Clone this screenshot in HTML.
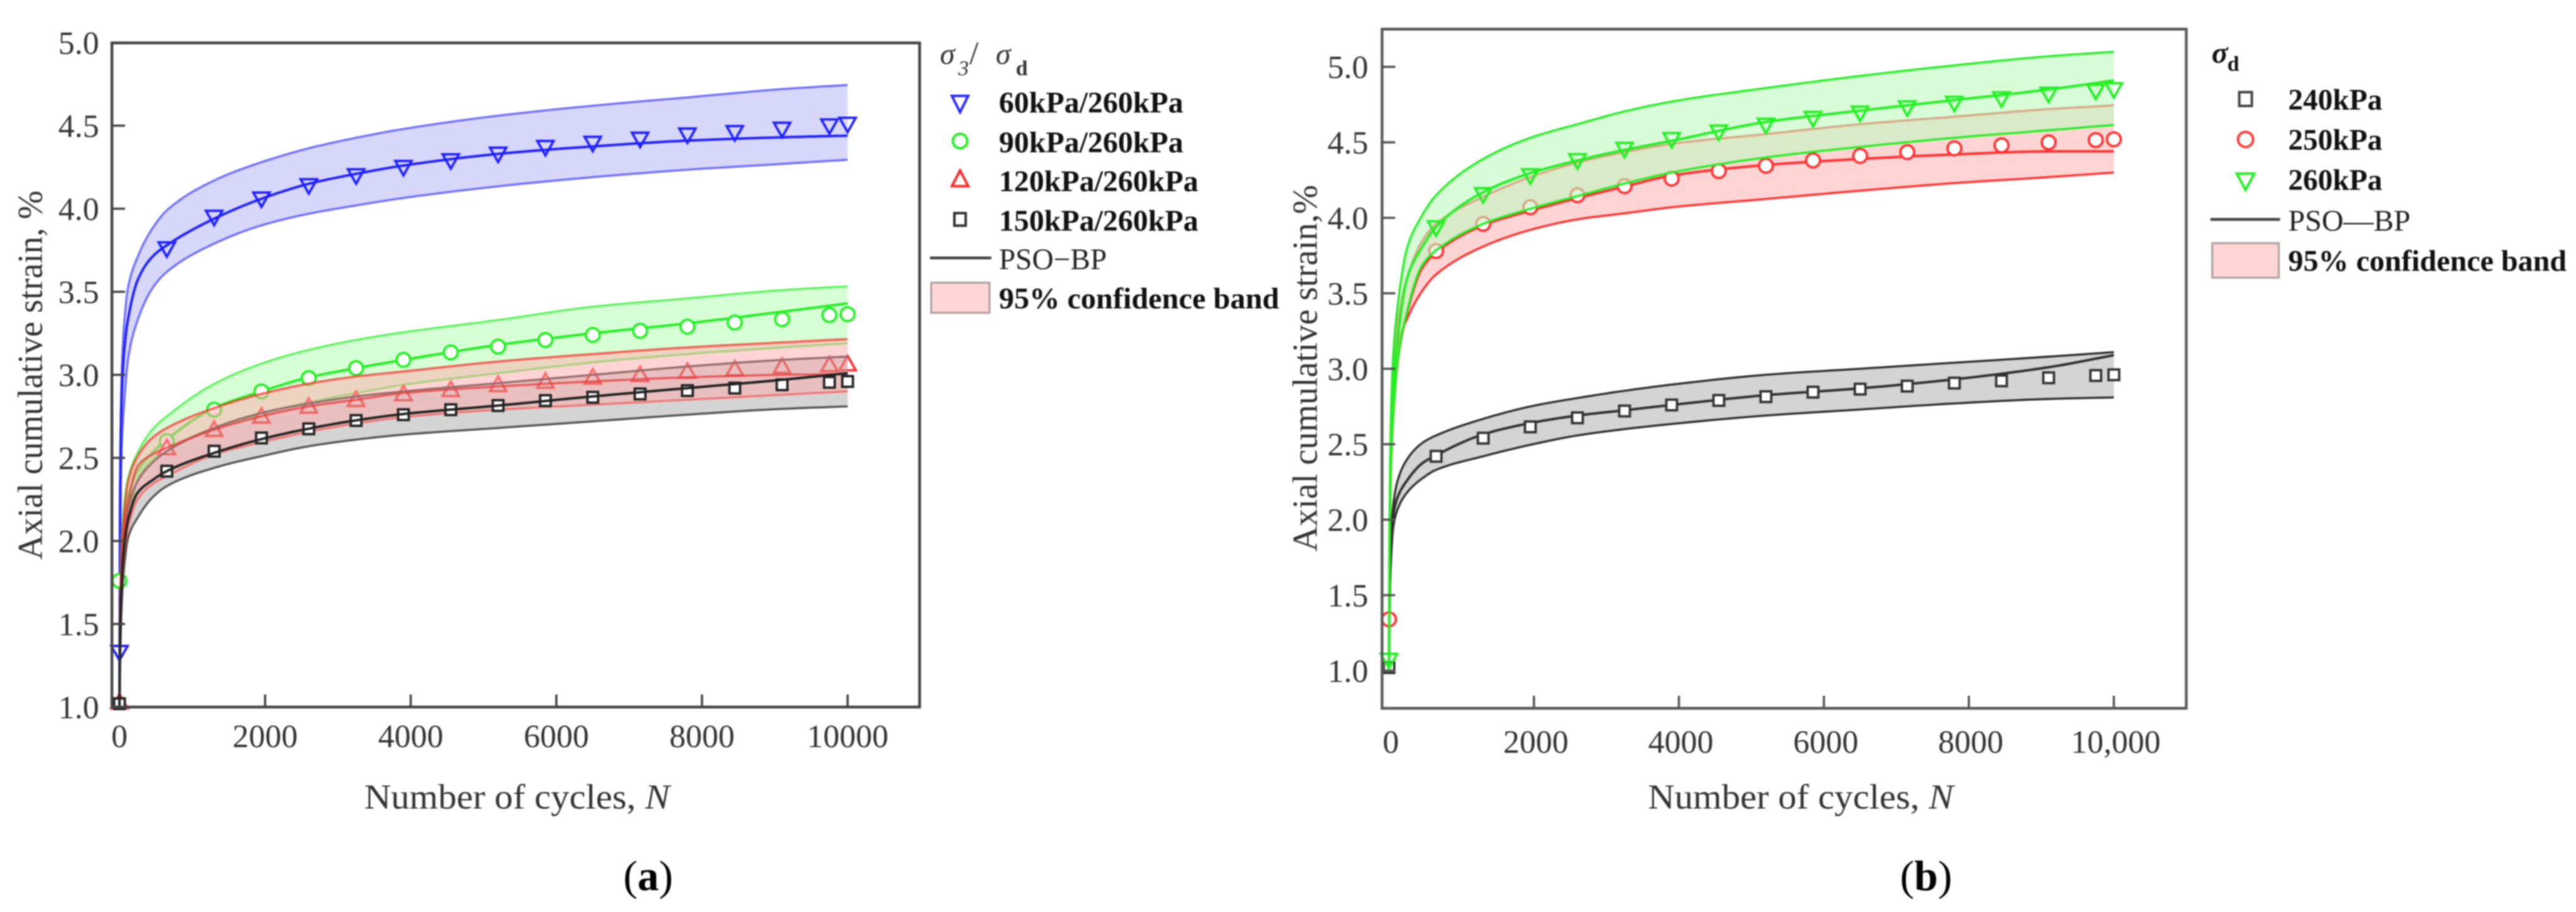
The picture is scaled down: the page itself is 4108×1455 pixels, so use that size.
<!DOCTYPE html>
<html lang="en">
<head>
<meta charset="utf-8">
<title>Axial cumulative strain vs number of cycles</title>
<style>
  html, body { margin: 0; padding: 0; background: #fff; }
  #figure { display: block; width: 4108px; height: 1455px; filter: blur(1.1px); }
  text { font-family: "Liberation Serif", serif; fill: #333; }
  .tick { font-size: 52px; }
  .title { font-size: 56px; }
  .leg { font-size: 48px; font-weight: bold; fill: #111; }
  .legr { font-size: 48px; fill: #222; }
  .axis { fill: none; stroke: #444; stroke-width: 4.5; }
</style>
</head>
<body>
<svg id="figure" xmlns="http://www.w3.org/2000/svg" width="4108" height="1455" viewBox="0 0 4108 1455">
  <rect x="0" y="0" width="4108" height="1455" fill="#fff"/>

  <g id="chart-a">
    <g id="a-marks"></g>
    <rect class="axis" x="178.5" y="68.5" width="1288" height="1059.5"/>
    <g id="a-axes"></g>
    <text class="title" transform="translate(67,893) rotate(-90)" textLength="589" lengthAdjust="spacingAndGlyphs">Axial cumulative strain, %</text>
    <text class="title" x="581" y="1290" textLength="487" lengthAdjust="spacingAndGlyphs">Number of cycles, <tspan font-style="italic">N</tspan></text>
    <text x="994" y="1420" font-size="68" style="fill:#000">(<tspan font-weight="bold">a</tspan>)</text>
  </g>

  <g id="legend-a">
    <g>
      <text x="1499" y="102" font-size="48" font-style="italic">σ</text>
      <text x="1528" y="120" font-size="34" font-style="italic">3</text>
      <text x="1546" y="102" font-size="52">/</text>
      <text x="1588" y="102" font-size="48" font-style="italic">σ</text>
      <text x="1620" y="120" font-size="34" font-weight="bold">d</text>
    </g>
    <polygon points="1518,153 1544,153 1531,179" fill="#fff" stroke="#2a2aff" stroke-width="4"/>
    <text class="leg" x="1593" y="179.5" textLength="294" lengthAdjust="spacingAndGlyphs">60kPa/260kPa</text>
    <circle cx="1531" cy="225" r="11.5" fill="#fff" stroke="#22ee22" stroke-width="4"/>
    <text class="leg" x="1593" y="243" textLength="294" lengthAdjust="spacingAndGlyphs">90kPa/260kPa</text>
    <polygon points="1518,297 1544,297 1531,272" fill="#fff" stroke="#ff2a2a" stroke-width="4"/>
    <text class="leg" x="1593" y="305" textLength="318" lengthAdjust="spacingAndGlyphs">120kPa/260kPa</text>
    <rect x="1522" y="340" width="18" height="20" fill="#fff" stroke="#333" stroke-width="4"/>
    <text class="leg" x="1593" y="368" textLength="318" lengthAdjust="spacingAndGlyphs">150kPa/260kPa</text>
    <line x1="1483" y1="411.5" x2="1581" y2="411.5" stroke="#444" stroke-width="4.5"/>
    <text class="legr" x="1593" y="429.5" textLength="172" lengthAdjust="spacingAndGlyphs">PSO−BP</text>
    <rect x="1485" y="451" width="93" height="48" fill="#ffd6d6" stroke="#b5a5a5" stroke-width="3.5"/>
    <text class="leg" x="1593" y="492" textLength="447" lengthAdjust="spacingAndGlyphs">95% confidence band</text>
  </g>

  <g id="chart-b">
    <g id="b-marks"></g>
    <rect class="axis" x="2204" y="46.5" width="1282.5" height="1083.5" style="stroke:#5a5a5a"/>
    <g id="b-axes"></g>
    <text class="title" transform="translate(2100,880) rotate(-90)" textLength="585" lengthAdjust="spacingAndGlyphs">Axial cumulative strain,%</text>
    <text class="title" x="2628" y="1290" textLength="487" lengthAdjust="spacingAndGlyphs">Number of cycles, <tspan font-style="italic">N</tspan></text>
    <text x="3030" y="1420" font-size="68" style="fill:#000">(<tspan font-weight="bold">b</tspan>)</text>
  </g>

  <g id="legend-b">
    <g>
      <text x="3527" y="100" font-size="48" font-style="italic" font-weight="bold" style="fill:#111">σ</text>
      <text x="3552" y="113" font-size="34" font-weight="bold" style="fill:#111">d</text>
    </g>
    <rect x="3571" y="147" width="20" height="22" fill="#fff" stroke="#444" stroke-width="4"/>
    <text class="leg" x="3649" y="175" textLength="150" lengthAdjust="spacingAndGlyphs">240kPa</text>
    <circle cx="3581" cy="222.5" r="12" fill="#fff" stroke="#ff3a3a" stroke-width="4"/>
    <text class="leg" x="3649" y="239" textLength="150" lengthAdjust="spacingAndGlyphs">250kPa</text>
    <polygon points="3567,277 3595,277 3581,303" fill="#fff" stroke="#22ee22" stroke-width="4"/>
    <text class="leg" x="3649" y="303" textLength="150" lengthAdjust="spacingAndGlyphs">260kPa</text>
    <line x1="3525" y1="350" x2="3636" y2="350" stroke="#444" stroke-width="4.5"/>
    <text class="legr" x="3649" y="368" textLength="195" lengthAdjust="spacingAndGlyphs">PSO—BP</text>
    <rect x="3528" y="388" width="106" height="55" fill="#ffd6d6" stroke="#b5a5a5" stroke-width="3.5"/>
    <text class="leg" x="3649" y="432" textLength="444" lengthAdjust="spacingAndGlyphs">95% confidence band</text>
  </g>
</svg>

<script>
// ---- shared x values ----
const markerCycles = [0, 650, 1300, 1950, 2600, 3250, 3900, 4550, 5200, 5850, 6500, 7150, 7800, 8450, 9100, 9750, 10000];
const curveCycles = [0, 10, 30, 60, 120, 250, 450, 650, 1300, 1950, 2600, 3250, 3900, 5200, 6500, 7800, 9100, 10000];

// ---- chart (a) tick labels ----
const aXTicks = [0, 2000, 4000, 6000, 8000, 10000];
const aXTickLabels = ['0', '2000', '4000', '6000', '8000', '10000'];
const aYTicks = [1.0, 1.5, 2.0, 2.5, 3.0, 3.5, 4.0, 4.5, 5.0];
const aYTickLabels = ['1.0', '1.5', '2.0', '2.5', '3.0', '3.5', '4.0', '4.5', '5.0'];

// ---- chart (a) measured points ----
const a60Points = [1.33, 3.76, 3.95, 4.06, 4.14, 4.20, 4.25, 4.29, 4.33, 4.37, 4.395, 4.42, 4.445, 4.46, 4.48, 4.50, 4.51];
const a90Points = [1.76, 2.60, 2.79, 2.90, 2.98, 3.04, 3.09, 3.135, 3.17, 3.21, 3.24, 3.265, 3.29, 3.315, 3.335, 3.36, 3.365];
const a120Points = [1.03, 2.56, 2.67, 2.75, 2.81, 2.85, 2.885, 2.91, 2.94, 2.96, 2.985, 3.00, 3.02, 3.035, 3.05, 3.06, 3.065];
const a150Points = [1.02, 2.42, 2.54, 2.62, 2.675, 2.725, 2.76, 2.79, 2.815, 2.845, 2.865, 2.885, 2.905, 2.92, 2.94, 2.955, 2.96];

// ---- chart (a) fitted curves and bands ----
const a60Upper = [1, 2.4, 3.0, 3.28, 3.53, 3.71, 3.88, 3.99, 4.17, 4.28, 4.364, 4.427, 4.48, 4.56, 4.62, 4.67, 4.72, 4.745];
const a60Mean = [1, 2.3, 2.85, 3.12, 3.34, 3.57, 3.71, 3.78, 3.94, 4.06, 4.15, 4.21, 4.26, 4.33, 4.375, 4.41, 4.43, 4.44];
const a60Lower = [1, 2.0, 2.55, 2.8, 3.1, 3.33, 3.52, 3.62, 3.79, 3.90, 3.97, 4.02, 4.065, 4.135, 4.19, 4.235, 4.27, 4.295];
const a90Upper = [1, 1.6, 2.0, 2.2, 2.38, 2.53, 2.67, 2.75, 2.945, 3.067, 3.15, 3.21, 3.256, 3.33, 3.41, 3.46, 3.51, 3.533];
const a90Mean = [1, 1.55, 1.9, 2.1, 2.27, 2.42, 2.53, 2.61, 2.80, 2.90, 2.985, 3.04, 3.09, 3.18, 3.25, 3.31, 3.38, 3.43];
const a90Lower = [1, 1.45, 1.75, 1.95, 2.12, 2.37, 2.49, 2.55, 2.68, 2.765, 2.835, 2.89, 2.94, 3.01, 3.075, 3.125, 3.165, 3.19];
const a120Upper = [1, 1.6, 1.95, 2.15, 2.36, 2.51, 2.62, 2.68, 2.80, 2.885, 2.947, 2.99, 3.02, 3.08, 3.125, 3.165, 3.195, 3.215];
const a120Mean = [1, 1.5, 1.85, 2.05, 2.24, 2.45, 2.52, 2.56, 2.67, 2.75, 2.81, 2.85, 2.89, 2.93, 2.96, 2.985, 3.0, 3.005];
const a120Lower = [1, 1.4, 1.7, 1.9, 2.08, 2.25, 2.34, 2.39, 2.52, 2.594, 2.657, 2.707, 2.745, 2.79, 2.82, 2.85, 2.88, 2.90];
const a150Upper = [1, 1.5, 1.8, 2.0, 2.2, 2.36, 2.47, 2.54, 2.68, 2.77, 2.827, 2.87, 2.90, 2.95, 3.0, 3.05, 3.09, 3.11];
const a150Mean = [1, 1.45, 1.75, 1.95, 2.13, 2.29, 2.365, 2.42, 2.53, 2.613, 2.676, 2.726, 2.764, 2.815, 2.87, 2.92, 2.97, 3.01];
const a150Lower = [1, 1.3, 1.6, 1.82, 2.02, 2.14, 2.26, 2.33, 2.44, 2.51, 2.57, 2.61, 2.64, 2.68, 2.72, 2.76, 2.795, 2.81];

// ---- chart (b) tick labels ----
const bXTicks = [0, 2000, 4000, 6000, 8000, 10000];
const bXTickLabels = ['0', '2000', '4000', '6000', '8000', '10,000'];
const bYTicks = [1.0, 1.5, 2.0, 2.5, 3.0, 3.5, 4.0, 4.5, 5.0];
const bYTickLabels = ['1.0', '1.5', '2.0', '2.5', '3.0', '3.5', '4.0', '4.5', '5.0'];

// ---- chart (b) measured points ----
const b240Points = [1.02, 2.42, 2.54, 2.615, 2.675, 2.72, 2.76, 2.79, 2.815, 2.845, 2.865, 2.885, 2.905, 2.92, 2.94, 2.955, 2.96];
const b250Points = [1.34, 3.78, 3.96, 4.07, 4.15, 4.21, 4.26, 4.31, 4.345, 4.38, 4.41, 4.435, 4.46, 4.48, 4.50, 4.515, 4.52];
const b260Points = [1.07, 3.935, 4.155, 4.28, 4.38, 4.455, 4.52, 4.57, 4.615, 4.66, 4.695, 4.73, 4.76, 4.79, 4.82, 4.84, 4.85];

// ---- chart (b) fitted curves and bands ----
const b240Upper = [1, 1.6, 1.9, 2.1, 2.26, 2.4, 2.505, 2.558, 2.668, 2.75, 2.806, 2.854, 2.895, 2.96, 3.00, 3.04, 3.08, 3.11];
const b240Mean = [1, 1.5, 1.85, 2.03, 2.15, 2.26, 2.37, 2.427, 2.565, 2.64, 2.69, 2.725, 2.76, 2.825, 2.87, 2.93, 3.01, 3.09];
const b240Lower = [1, 1.45, 1.75, 1.95, 2.07, 2.18, 2.27, 2.33, 2.42, 2.496, 2.558, 2.60, 2.634, 2.69, 2.73, 2.77, 2.80, 2.81];
const b250Upper = [1, 2.0, 2.55, 2.9, 3.3, 3.6, 3.84, 3.96, 4.14, 4.27, 4.366, 4.435, 4.49, 4.555, 4.62, 4.67, 4.72, 4.745];
const b250Mean = [1, 1.9, 2.4, 2.7, 3.05, 3.37, 3.66, 3.77, 3.95, 4.047, 4.13, 4.207, 4.28, 4.35, 4.39, 4.42, 4.44, 4.44];
const b250Lower = [1, 1.8, 2.4, 2.8, 3.15, 3.33, 3.51, 3.625, 3.81, 3.92, 3.99, 4.03, 4.07, 4.125, 4.18, 4.23, 4.27, 4.30];
const b260Upper = [1, 2.1, 2.75, 3.1, 3.42, 3.80, 4.01, 4.15, 4.39, 4.53, 4.62, 4.705, 4.77, 4.86, 4.94, 5.01, 5.07, 5.10];
const b260Mean = [1, 2.0, 2.55, 2.9, 3.2, 3.6, 3.8, 3.94, 4.17, 4.296, 4.38, 4.45, 4.51, 4.635, 4.71, 4.78, 4.85, 4.91];
const b260Lower = [1, 1.9, 2.4, 2.7, 3.05, 3.38, 3.68, 3.784, 3.96, 4.06, 4.144, 4.227, 4.30, 4.40, 4.47, 4.53, 4.58, 4.615];

// ---- axis functions ----
function aX(n) { return 190.5 + n * 0.11612; }
function aY(v) { return 1128 - (v - 1) * 265; }
function bX(n) { return 2215 + n * 0.1156; }
function bY(v) { return 106.7 + (5 - v) * 240.8; }

const SVG_NS = 'http://www.w3.org/2000/svg';
function make(tag, attrs, parent) {
  const node = document.createElementNS(SVG_NS, tag);
  for (const key in attrs) node.setAttribute(key, attrs[key]);
  parent.appendChild(node);
  return node;
}

// Smooth monotone curve through the sampled values
function smooth(xs, ys, xf, yf) {
  const px = xs.map(xf), py = ys.map(yf), n = px.length;
  const d = [];
  for (let i = 0; i < n - 1; i++) d.push((py[i + 1] - py[i]) / (px[i + 1] - px[i]));
  const m = [d[0]];
  for (let i = 1; i < n - 1; i++) {
    if (d[i - 1] * d[i] <= 0) { m.push(0); continue; }
    const h0 = px[i] - px[i - 1], h1 = px[i + 1] - px[i];
    m.push(3 * (h0 + h1) / ((2 * h1 + h0) / d[i - 1] + (h1 + 2 * h0) / d[i]));
  }
  m.push(d[n - 2]);
  const out = [];
  for (let i = 0; i < n - 1; i++) {
    const h = px[i + 1] - px[i];
    for (let s = 0; s < 10; s++) {
      const t = s / 10, t2 = t * t, t3 = t2 * t;
      const y = (2 * t3 - 3 * t2 + 1) * py[i] + (t3 - 2 * t2 + t) * h * m[i] +
                (-2 * t3 + 3 * t2) * py[i + 1] + (t3 - t2) * h * m[i + 1];
      out.push([px[i] + t * h, y]);
    }
  }
  out.push([px[n - 1], py[n - 1]]);
  return out;
}
function ptsToString(pts) {
  return pts.map(function (p) { return p[0].toFixed(1) + ',' + p[1].toFixed(1); }).join(' ');
}

function drawBand(parent, upper, lower, fill, xf, yf, name) {
  const up = smooth(curveCycles, upper, xf, yf);
  const lo = smooth(curveCycles, lower, xf, yf);
  const band = make('polygon', { points: ptsToString(up.concat(lo.slice().reverse())), fill: fill, stroke: 'none' }, parent);
  
  
}
function drawCurve(parent, values, color, width, xf, yf, name) {
  const line = make('polyline', { points: ptsToString(smooth(curveCycles, values, xf, yf)), fill: 'none', stroke: color, 'stroke-width': width, 'stroke-linejoin': 'round' }, parent);
  
  
}
function drawMarkers(parent, values, shape, color, fill, xf, yf, name) {
  values.forEach(function (v, i) {
    const x = xf(markerCycles[i]), y = yf(v);
    let node;
    if (shape === 'square') {
      node = make('rect', { x: x - 8.5, y: y - 8.5, width: 17, height: 17 }, parent);
    } else if (shape === 'circle') {
      node = make('circle', { cx: x, cy: y, r: 11 }, parent);
    } else if (shape === 'down') {
      node = make('polygon', { points: (x - 13) + ',' + (y - 10) + ' ' + (x + 13) + ',' + (y - 10) + ' ' + x + ',' + (y + 13) }, parent);
    } else {
      node = make('polygon', { points: (x - 13) + ',' + (y + 10) + ' ' + (x + 13) + ',' + (y + 10) + ' ' + x + ',' + (y - 13) }, parent);
    }
    node.setAttribute('fill', fill);
    node.setAttribute('stroke', color);
    node.setAttribute('stroke-width', '3.8');
    
    
  });
}
function drawSeries(parent, upper, mean, lower, fill, color, limitColor, xf, yf, name) {
  drawBand(parent, upper, lower, fill, xf, yf, name);
  drawCurve(parent, upper, limitColor, 3.4, xf, yf, name + '-upper-limit');
  drawCurve(parent, lower, limitColor, 3.4, xf, yf, name + '-lower-limit');
  drawCurve(parent, mean, color, 4, xf, yf, name + '-fit-line');
}
function drawAxes(parent, xTicks, xLabels, yTicks, yLabels, xf, yf, axisX, axisY, yLabelX, xLabelY, stroke, name) {
  xTicks.forEach(function (t, i) {
    const x = xf(t);
    if (t !== 0) {
      const tick = make('line', { x1: x, y1: axisY, x2: x, y2: axisY - 20, stroke: stroke, 'stroke-width': 3.6 }, parent);
      
      
    }
    const label = make('text', { x: x + (name === 'chart-b' ? 3 : 0), y: xLabelY, 'text-anchor': 'middle', class: 'tick' }, parent);
    label.textContent = xLabels[i];
    
    
  });
  yTicks.forEach(function (t, i) {
    const y = yf(t);
    const tick = make('line', { x1: axisX, y1: y, x2: axisX + 21, y2: y, stroke: stroke, 'stroke-width': 3.6 }, parent);
    
    
    const label = make('text', { x: yLabelX, y: y + 18, 'text-anchor': 'end', class: 'tick' }, parent);
    label.textContent = yLabels[i];
    
    
  });
}

// ---- chart (a) ----
const aMarks = document.getElementById('a-marks');
const BLUE = '#2020ff', GREEN = '#22f022', RED = '#ff3030', DARK = '#303030';
drawSeries(aMarks, a60Upper, a60Mean, a60Lower, 'rgba(40,40,230,0.19)', BLUE, '#6f6fff', aX, aY, 'series-60kpa');
drawMarkers(aMarks, a60Points, 'down', BLUE, 'none', aX, aY, 'series-60kpa');
drawSeries(aMarks, a90Upper, a90Mean, a90Lower, 'rgba(0,255,0,0.16)', GREEN, '#5cf55c', aX, aY, 'series-90kpa');
drawMarkers(aMarks, a90Points, 'circle', GREEN, '#fff', aX, aY, 'series-90kpa');
drawMarkers(aMarks, a120Points, 'up', RED, '#fff', aX, aY, 'series-120kpa');
drawBand(aMarks, a150Upper, a150Lower, 'rgba(0,0,0,0.17)', aX, aY, 'series-150kpa');
drawCurve(aMarks, a150Upper, '#333', 3.4, aX, aY, 'series-150kpa-upper-limit');
drawCurve(aMarks, a150Lower, '#555', 3.4, aX, aY, 'series-150kpa-lower-limit');
drawBand(aMarks, a120Upper, a120Lower, 'rgba(255,170,170,0.5)', aX, aY, 'series-120kpa');
drawCurve(aMarks, a120Upper, 'rgba(255,40,40,0.7)', 3.6, aX, aY, 'series-120kpa-upper-limit');
drawCurve(aMarks, a120Lower, 'rgba(255,40,40,0.5)', 3.4, aX, aY, 'series-120kpa-lower-limit');
drawCurve(aMarks, a120Mean, 'rgba(230,60,60,0.75)', 3.6, aX, aY, 'series-120kpa-fit-line');
drawMarkers(aMarks, a150Points, 'square', '#222', '#fff', aX, aY, 'series-150kpa');
drawCurve(aMarks, a150Mean, '#222', 4, aX, aY, 'series-150kpa-fit-line');
drawAxes(document.getElementById('a-axes'), aXTicks, aXTickLabels, aYTicks, aYTickLabels, aX, aY, 178.5, 1128, 158, 1192, '#444', 'chart-a');

// ---- chart (b) ----
const bMarks = document.getElementById('b-marks');
drawSeries(bMarks, b240Upper, b240Mean, b240Lower, 'rgba(0,0,0,0.17)', DARK, DARK, bX, bY, 'series-240kpa');
drawMarkers(bMarks, b240Points, 'square', '#333', '#fff', bX, bY, 'series-240kpa');
drawSeries(bMarks, b250Upper, b250Mean, b250Lower, 'rgba(255,170,170,0.5)', RED, RED, bX, bY, 'series-250kpa');
drawMarkers(bMarks, b250Points, 'circle', RED, '#fff', bX, bY, 'series-250kpa');
drawSeries(bMarks, b260Upper, b260Mean, b260Lower, 'rgba(190,248,190,0.6)', GREEN, GREEN, bX, bY, 'series-260kpa');
drawMarkers(bMarks, b260Points, 'down', GREEN, 'none', bX, bY, 'series-260kpa');
drawAxes(document.getElementById('b-axes'), bXTicks, bXTickLabels, bYTicks, bYTickLabels, bX, bY, 2204, 1130, 2182, 1201, '#555', 'chart-b');
</script>
</body>
</html>
